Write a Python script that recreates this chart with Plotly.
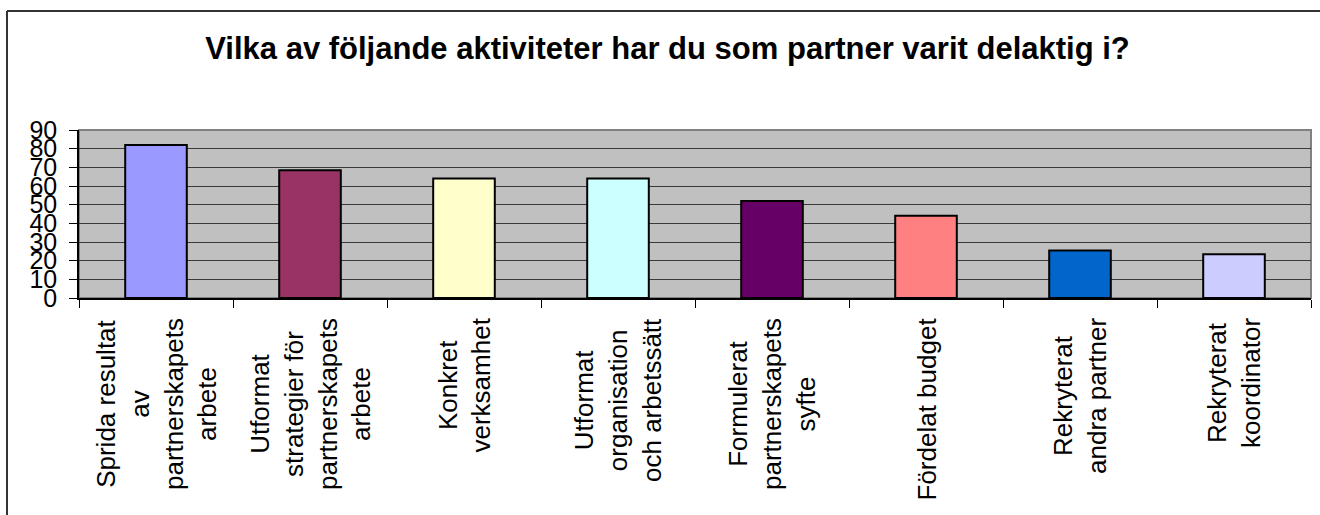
import plotly.graph_objects as go

categories = [
    "Sprida resultat<br>av<br>partnerskapets<br>arbete",
    "Utformat<br>strategier för<br>partnerskapets<br>arbete",
    "Konkret<br>verksamhet",
    "Utformat<br>organisation<br>och arbetssätt",
    "Formulerat<br>partnerskapets<br>syfte",
    "Fördelat budget",
    "Rekryterat<br>andra partner",
    "Rekryterat<br>koordinator",
]
values = [82, 68.5, 64, 64, 52, 44, 25.5, 23.5]
bar_colors = ["#9999FF", "#993366", "#FFFFCC", "#CCFFFF", "#660066", "#FF8080", "#0066CC", "#CCCCFF"]
y_ticks = [0, 10, 20, 30, 40, 50, 60, 70, 80, 90]
title_text = "Vilka av följande aktiviteter har du som partner varit delaktig i?"

W, H = 1320, 515
ml, mr, mt, mb = 79, 9, 130, 217
pw, ph = W - ml - mr, H - mt - mb

fig = go.Figure()
fig.add_trace(go.Bar(
    x=categories, y=values,
    marker=dict(color=bar_colors, line=dict(color="black", width=2)),
    width=0.4,
    showlegend=False,
    hoverinfo="skip",
))

font = "Liberation Sans, Arial, sans-serif"

annotations = []
for c in categories:
    annotations.append(dict(
        x=c, xref="x", y=(298 - 316) / ph, yref="paper",
        text=c, textangle=-90, showarrow=False,
        xanchor="center", yanchor="top", align="center",
        font=dict(family=font, size=26, color="black"),
    ))

def px_to_paper_x(px):
    return (px - ml) / pw

def px_to_paper_y(py):
    return (H - mb - py) / ph

shapes = [
    # outer chart border (left and top visible)
    dict(type="line", xref="paper", yref="paper",
         x0=px_to_paper_x(7), x1=px_to_paper_x(7), y0=px_to_paper_y(11), y1=px_to_paper_y(530),
         line=dict(color="#333333", width=2)),
    dict(type="line", xref="paper", yref="paper",
         x0=px_to_paper_x(7), x1=px_to_paper_x(1340), y0=px_to_paper_y(11), y1=px_to_paper_y(11),
         line=dict(color="#333333", width=2)),
    # plot area border
    dict(type="rect", xref="paper", yref="paper", x0=0, x1=1, y0=0, y1=1,
         line=dict(color="#808080", width=2), layer="below"),
]

fig.update_layout(
    width=W, height=H,
    margin=dict(l=ml, r=mr, t=mt, b=mb, autoexpand=False),
    paper_bgcolor="white",
    plot_bgcolor="#C0C0C0",
    bargap=0.6,
    title=dict(
        text=f"<b>{title_text}</b>",
        x=667.5 / W, xanchor="center", xref="container",
        y=1 - 48 / H, yanchor="middle", yref="container",
        font=dict(family=font, size=31, color="black"),
    ),
    xaxis=dict(
        showticklabels=False,
        ticks="outside", ticklen=8, tickcolor="black", tickwidth=1,
        tickson="boundaries",
        showline=True, linecolor="black", linewidth=1.5,
        showgrid=False, zeroline=False,
    ),
    yaxis=dict(
        range=[0, 90], tickvals=y_ticks, ticktext=[str(v) for v in y_ticks],
        ticks="outside", ticklen=8, tickcolor="black", tickwidth=1,
        showline=True, linecolor="black", linewidth=1.5,
        showgrid=True, gridcolor="#3a3a3a", gridwidth=1,
        zeroline=False,
        tickfont=dict(family=font, size=25, color="black"),
        ticklabelstandoff=7,
    ),
    annotations=annotations,
    shapes=shapes,
)

fig.write_html(
    "out.html",
    config={"displayModeBar": False},
    post_script="document.body.style.margin='0';document.body.style.overflow='hidden';",
)
